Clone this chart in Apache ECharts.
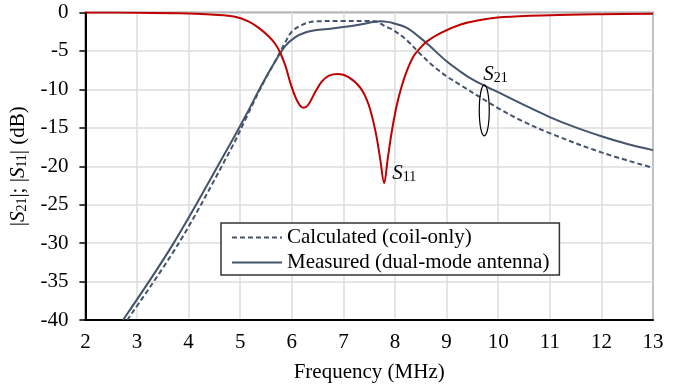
<!DOCTYPE html>
<html>
<head>
<meta charset="utf-8">
<script src="https://cdn.jsdelivr.net/npm/echarts@6/dist/echarts.min.js"></script>
<style>
  html, body { margin: 0; padding: 0; background: #fff; }
  #chart { width: 679px; height: 388px; }
</style>
</head>
<body>
<div id="chart"></div>
<script>
// Frequency ticks (MHz) and magnitude ticks (dB)
const freqTicks = [2, 3, 4, 5, 6, 7, 8, 9, 10, 11, 12, 13];
const dbTicks = [0, -5, -10, -15, -20, -25, -30, -35, -40];

// |S11| of the dual-mode antenna
const s11Freq = [2.0, 3.0, 4.0, 4.5, 4.9, 5.16, 5.36, 5.55, 5.68, 5.78, 5.88, 5.97, 6.07, 6.16, 6.23, 6.32, 6.45, 6.58, 6.72, 6.9, 7.1, 7.33, 7.49, 7.62, 7.71, 7.79, 7.86, 7.93, 8.03, 8.13, 8.23, 8.36, 8.49, 8.62, 8.88, 9.26, 9.6, 10.1, 11.0, 12.0, 13.0];
const s11Db   = [0.0, -0.02, -0.12, -0.28, -0.55, -1.15, -2.0, -3.1, -4.1, -5.3, -7.0, -9.1, -11.0, -12.1, -12.4, -12.0, -10.4, -9.0, -8.2, -8.0, -8.4, -9.8, -12.0, -15.4, -18.9, -22.2, -19.0, -15.8, -12.2, -9.6, -7.6, -5.7, -4.6, -3.75, -2.67, -1.6, -1.05, -0.6, -0.35, -0.22, -0.15];

// |S21|, calculated (coil only)
const calcFreq = [2.81, 3.81, 4.81, 5.13, 5.42, 5.68, 5.88, 6.0, 6.2, 6.45, 7.0, 7.5, 7.65, 7.81, 7.97, 8.23, 8.49, 8.75, 9.0, 9.26, 9.79, 10.04, 10.43, 11.0, 12.0, 13.0];
const calcDb   = [-40, -30, -17.9, -13.5, -9.5, -6.3, -3.8, -2.5, -1.6, -1.15, -1.1, -1.1, -1.2, -1.8, -2.3, -3.6, -5.4, -7.0, -8.3, -9.4, -11.6, -12.6, -14.0, -15.7, -18.2, -20.2];

// |S21|, measured (dual-mode antenna)
const measFreq = [2.73, 3.71, 4.74, 5.10, 5.42, 5.68, 5.88, 6.07, 6.26, 6.45, 6.75, 7.0, 7.3, 7.58, 7.72, 7.85, 7.97, 8.23, 8.49, 8.68, 9.0, 9.26, 9.5, 9.79, 10.04, 10.43, 11.0, 11.5, 12.0, 12.5, 13.0];
const measDb   = [-40, -30, -17.9, -13.5, -9.4, -6.35, -4.3, -3.2, -2.6, -2.3, -2.1, -1.9, -1.6, -1.25, -1.15, -1.22, -1.4, -2.0, -3.3, -4.4, -6.35, -7.65, -8.7, -9.7, -10.5, -11.8, -13.6, -14.95, -16.1, -17.1, -17.9];

const seriesNames = ['Calculated (coil-only)', 'Measured (dual-mode antenna)', 'S11'];

const FONT = "'Liberation Serif', 'Times New Roman', serif";
const S21_COLOR = '#44546a';
const S11_COLOR = '#c00000';

const pairs = (xs, ys) => xs.map((x, i) => [x, ys[i]]);

const subRich = {
  s:   { fontFamily: FONT, fontStyle: 'italic', fontSize: 21, color: '#000' },
  sub: { fontFamily: FONT, fontSize: 14, color: '#000', padding: [8, 0, 0, 0] },
  t:   { fontFamily: FONT, fontSize: 21, color: '#000' }
};

const chart = echarts.init(document.getElementById('chart'), null, { renderer: 'canvas' });

const option = {
  animation: false,
  backgroundColor: '#fff',
  grid: {
    left: 85, right: 26, top: 12.5, bottom: 68,
    show: true, borderColor: '#404040', borderWidth: 1.5, backgroundColor: 'transparent'
  },
  legend: {
    data: seriesNames.slice(0, 2),
    orient: 'vertical',
    left: 221, top: 223,
    itemWidth: 50, itemHeight: 14, itemGap: 4,
    padding: [4, 10, 2, 10],
    backgroundColor: '#fff',
    borderColor: '#333', borderWidth: 1.5, borderRadius: 0,
    itemStyle: { opacity: 0 },
    textStyle: { fontFamily: FONT, fontSize: 21, color: '#000' },
    selectedMode: false
  },
  xAxis: {
    type: 'value',
    min: freqTicks[0], max: freqTicks[freqTicks.length - 1], interval: 1,
    name: 'Frequency (MHz)',
    nameLocation: 'middle', nameGap: 42,
    nameTextStyle: { fontFamily: FONT, fontSize: 21, color: '#000' },
    axisLine: { onZero: false, lineStyle: { color: '#000', width: 2 } },
    axisTick: { show: false },
    axisLabel: { fontFamily: FONT, fontSize: 21, color: '#000', margin: 12 },
    splitLine: { show: true, lineStyle: { color: '#dcdcdc', width: 1.5 } }
  },
  yAxis: {
    type: 'value',
    min: dbTicks[dbTicks.length - 1], max: dbTicks[0], interval: 5,
    name: '{t||}{s|S}{sub|21}{t||; |}{s|S}{sub|11}{t||}{t| (dB)}',
    nameLocation: 'middle', nameGap: 52, nameRotate: 90,
    nameTextStyle: { fontFamily: FONT, fontSize: 21, color: '#000', rich: subRich },
    axisLine: { onZero: false, lineStyle: { color: '#000', width: 2 } },
    axisTick: { show: true, inside: false, length: 6, lineStyle: { color: '#000', width: 1.5 } },
    axisLabel: { fontFamily: FONT, fontSize: 21, color: '#000', margin: 17 },
    splitLine: { show: true, lineStyle: { color: '#dcdcdc', width: 1.5 } }
  },
  series: [
    {
      name: seriesNames[0], type: 'line', data: pairs(calcFreq, calcDb),
      symbol: 'none', smooth: 0.35, z: 3,
      lineStyle: { color: S21_COLOR, width: 2, type: [5, 3] },
      itemStyle: { color: S21_COLOR }
    },
    {
      name: seriesNames[1], type: 'line', data: pairs(measFreq, measDb),
      symbol: 'none', smooth: 0.35, z: 4,
      lineStyle: { color: S21_COLOR, width: 2 },
      itemStyle: { color: S21_COLOR }
    },
    {
      name: seriesNames[2], type: 'line', data: pairs(s11Freq, s11Db),
      symbol: 'none', smooth: 0.35, z: 5,
      lineStyle: { color: S11_COLOR, width: 2 },
      itemStyle: { color: S11_COLOR }
    }
  ]
};

chart.setOption(option);

// Curve annotations placed in data coordinates
const toPx = (f, db) => chart.convertToPixel({ gridIndex: 0 }, [f, db]);
const s21Label = toPx(9.96, -8.4);
const s11Label = toPx(8.2, -21.3);
const ringCenter = toPx(9.73, -12.74);

chart.setOption({
  graphic: [
    {
      type: 'text', left: s21Label[0] - 13, top: s21Label[1] - 13, z: 10,
      style: { text: '{s|S}{sub|21}', rich: subRich }
    },
    {
      type: 'text', left: s11Label[0] - 13, top: s11Label[1] - 13, z: 10,
      style: { text: '{s|S}{sub|11}', rich: subRich }
    },
    {
      type: 'ellipse', z: 10,
      shape: { cx: ringCenter[0], cy: ringCenter[1], rx: 5, ry: 25.5 },
      style: { fill: 'none', stroke: '#000', lineWidth: 1.2 }
    }
  ]
});
</script>
</body>
</html>
